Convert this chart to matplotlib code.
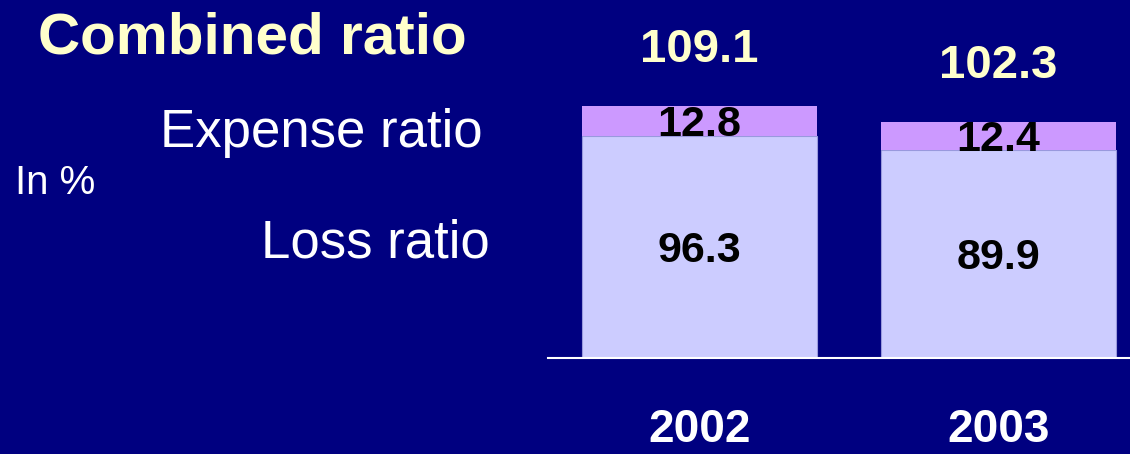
import numpy as np
import matplotlib.pyplot as plt

years = ['2002', '2003']
loss_ratio = [96.3, 89.9]
expense_ratio = [12.8, 12.4]
combined_ratio = [109.1, 102.3]

navy = '#000080'
loss_col = '#CCCCFF'
exp_col = '#CC99FF'
pale = '#FFFFCC'

plt.rcParams['font.family'] = ['Liberation Sans', 'DejaVu Sans']

fig = plt.figure(figsize=(11.3, 4.54), dpi=100, facecolor=navy)
ax = fig.add_axes([548 / 1130, 1 - 358 / 454, 582 / 1130, 358 / 454])
ax.set_facecolor(navy)

x = np.arange(len(years))
w = 0.786
ax.bar(x, loss_ratio, width=w, color=loss_col, edgecolor='#9999DD', linewidth=0.8)
ax.bar(x, expense_ratio, width=w, bottom=loss_ratio, color=exp_col, linewidth=0)

ax.set_xlim(-0.507, 1.44)
ax.set_ylim(0, 155)

for i in range(len(years)):
    ax.annotate(f'{loss_ratio[i]:.1f}', (x[i], loss_ratio[i] / 2), xytext=(0, -3),
                textcoords='offset points', ha='center', va='center',
                fontsize=31, fontweight='bold', color='black')
    ax.annotate(f'{expense_ratio[i]:.1f}', (x[i], loss_ratio[i] + expense_ratio[i] / 2),
                xytext=(0, -3), textcoords='offset points', ha='center', va='center',
                fontsize=31, fontweight='bold', color='black')
    ax.annotate(f'{combined_ratio[i]:.1f}', (x[i], combined_ratio[i]), xytext=(0, 40),
                textcoords='offset points', ha='center', va='center',
                fontsize=34, fontweight='bold', color=pale)

ax.set_xticks(x)
ax.set_xticklabels(years, fontsize=33, fontweight='bold', color='white')
ax.tick_params(axis='x', length=0, pad=36)
ax.set_yticks([])
for s in ['top', 'right', 'left']:
    ax.spines[s].set_visible(False)
ax.spines['bottom'].set_color('white')
ax.spines['bottom'].set_linewidth(1.5)

fig.text(252 / 1130, 1 - 39 / 454, 'Combined ratio', ha='center', va='center',
         fontsize=42, fontweight='bold', color=pale)
fig.text(483 / 1130, 1 - 133 / 454, 'Expense ratio', ha='right', va='center',
         fontsize=38, color='white')
fig.text(490 / 1130, 1 - 244 / 454, 'Loss ratio', ha='right', va='center',
         fontsize=38, color='white')
fig.text(15 / 1130, 1 - 183 / 454, 'In %', ha='left', va='center',
         fontsize=29, color='white')

fig.savefig('out.png', dpi=100, facecolor=navy)
